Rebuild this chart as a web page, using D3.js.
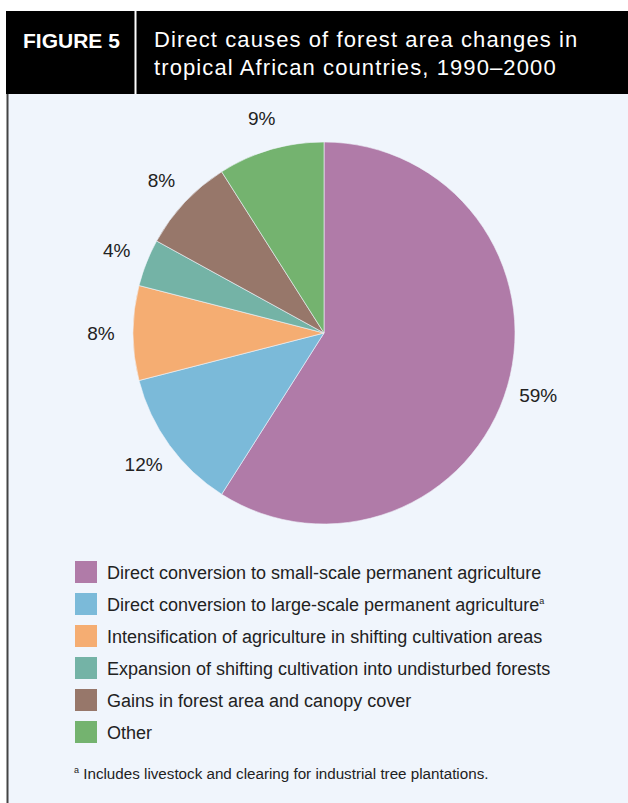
<!DOCTYPE html>
<html>
<head>
<meta charset="utf-8">
<script src="https://cdn.jsdelivr.net/npm/d3@7"></script>
<style>
  body { margin: 0; background: #fff; }
  svg { display: block; font-family: "Liberation Sans", Arial, sans-serif; }
</style>
</head>
<body>
<script>
// chart data
var categories = [
    "Direct conversion to small-scale permanent agriculture",
    "Direct conversion to large-scale permanent agriculture",
    "Intensification of agriculture in shifting cultivation areas",
    "Expansion of shifting cultivation into undisturbed forests",
    "Gains in forest area and canopy cover",
    "Other"
];
var values = [59, 12, 8, 4, 8, 9];
var colors = ["#b07ba8", "#7bbad9", "#f5ad72", "#74b3a6", "#97776a", "#74b36f"];
var footnoteMark = [false, true, false, false, false, false];
var titleLines = ["Direct causes of forest area changes in", "tropical African countries, 1990\u20132000"];

var w = 628, h = 803;

var svg = d3.select("body").append("svg")
    .attr("width", w)
    .attr("height", h);

// panel background and left rule
svg.append("rect")
    .attr("x", 7).attr("y", 94)
    .attr("width", w - 7).attr("height", h - 94)
    .style("fill", "#f0f5fc");
svg.append("line")
    .attr("x1", 7.5).attr("x2", 7.5)
    .attr("y1", 94).attr("y2", h)
    .style("stroke", "#444")
    .style("stroke-width", 2);

// header bar
svg.append("rect")
    .attr("x", 6).attr("y", 11)
    .attr("width", w - 6).attr("height", 83)
    .style("fill", "#000");
svg.append("line")
    .attr("x1", 135.5).attr("x2", 135.5)
    .attr("y1", 11).attr("y2", 94)
    .style("stroke", "#fff")
    .style("stroke-width", 2);
svg.append("text")
    .text("FIGURE 5")
    .attr("x", 23).attr("y", 48)
    .attr("font-size", "21px")
    .attr("font-weight", "bold")
    .attr("fill", "#fff");
svg.selectAll(".title")
    .data(titleLines)
    .enter()
    .append("text")
    .attr("class", "title")
    .text(function(d) { return d; })
    .attr("x", 154)
    .attr("y", function(d, i) { return 47 + i * 28; })
    .attr("font-size", "22px")
    .attr("letter-spacing", "1.1px")
    .attr("fill", "#fff");

// pie
var cx = 324, cy = 333, r = 191;
var pie = d3.pie().sort(null).value(function(d) { return d; });
var arcs = pie(values);
var arc = d3.arc().innerRadius(0).outerRadius(r);
var labelArc = d3.arc().innerRadius(223).outerRadius(223);

var g = svg.append("g").attr("transform", "translate(" + cx + "," + cy + ")");
g.selectAll("path")
    .data(arcs)
    .enter()
    .append("path")
    .attr("d", arc)
    .style("fill", function(d, i) { return colors[i]; })
    .style("stroke", "#f0f5fc")
    .style("stroke-width", 0.6);

// percentage labels just outside the rim
g.selectAll(".lbl")
    .data(arcs)
    .enter()
    .append("text")
    .attr("class", "lbl")
    .text(function(d) { return d.data + "%"; })
    .attr("transform", function(d) { return "translate(" + labelArc.centroid(d) + ")"; })
    .attr("text-anchor", "middle")
    .attr("dominant-baseline", "central")
    .attr("font-size", "19px")
    .attr("fill", "#222");

// legend
var legend = svg.selectAll(".leg")
    .data(categories)
    .enter()
    .append("g")
    .attr("class", "leg")
    .attr("transform", function(d, i) { return "translate(75," + (561 + i * 32) + ")"; });
legend.append("rect")
    .attr("width", 22).attr("height", 22)
    .style("fill", function(d, i) { return colors[i]; });
var lt = legend.append("text")
    .attr("x", 32).attr("y", 17.5)
    .attr("font-size", "18px")
    .attr("fill", "#222");
lt.append("tspan").text(function(d) { return d; });
lt.filter(function(d, i) { return footnoteMark[i]; })
    .append("tspan")
    .text("a")
    .attr("font-size", "9px")
    .attr("dy", -7);

// footnote
var fn = svg.append("text")
    .attr("x", 74).attr("y", 779)
    .attr("font-size", "15.2px")
    .attr("fill", "#222");
fn.append("tspan").text("a").attr("font-size", "9px").attr("dy", -6);
fn.append("tspan").text(" Includes livestock and clearing for industrial tree plantations.").attr("dy", 6);
</script>
</body>
</html>
